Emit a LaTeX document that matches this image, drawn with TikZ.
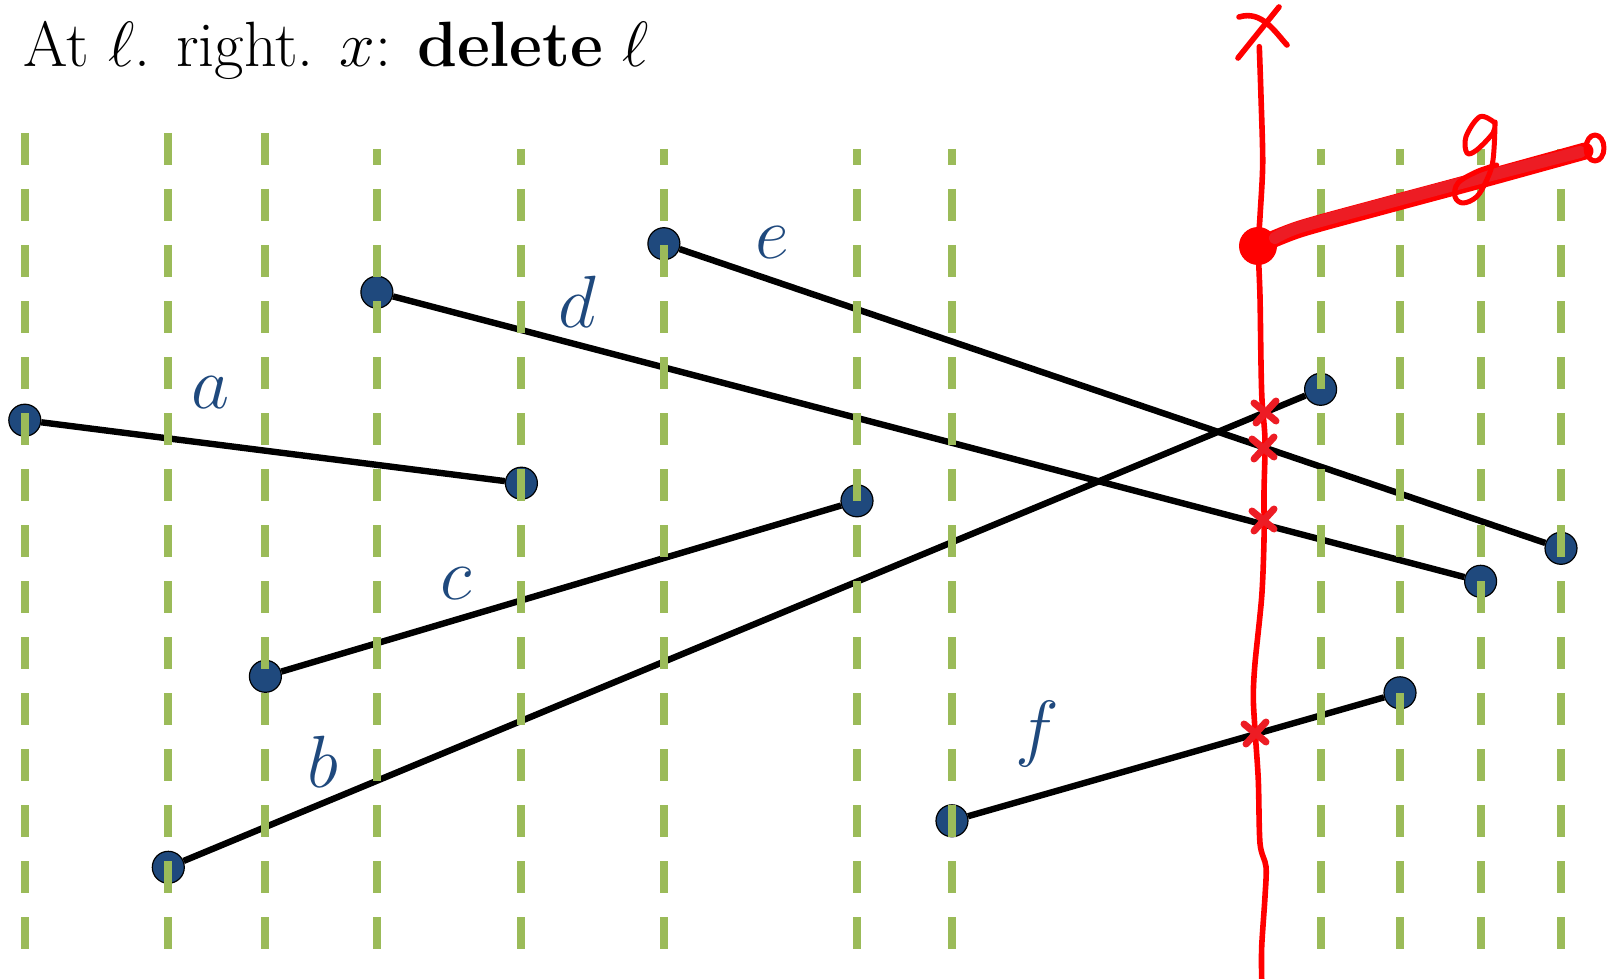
\RequirePackage{fix-cm}
\documentclass[tikz,border=0pt]{standalone}
\usepackage{amsmath,amssymb}
\usepackage{tikz}
\usetikzlibrary{calc}
\usepackage{xcolor}
\definecolor{segblue}{RGB}{31,73,125}
\definecolor{sweepgreen}{RGB}{155,187,89}
\definecolor{inkred}{RGB}{237,28,36}

\begin{document}
\begin{tikzpicture}[x=0.5pt,y=-0.5pt,
      endpt/.style={circle,draw=black,fill=segblue,line width=0.6pt,
                    minimum size=16pt,inner sep=0pt},
      seg/.style={line width=3.2pt},
      lbl/.style={text=segblue,font=\fontsize{37}{40}\selectfont,
                  anchor=base,inner sep=0pt},
      sweep/.style={sweepgreen,line width=4pt,dash pattern=on 16pt off 12pt},
      ink/.style={red,line width=2.8pt,line cap=round,line join=round},
      hit/.style={inkred,line width=3.5pt,line cap=round}]
    \useasboundingbox (0,0) rectangle (1619,979);

    \node[anchor=base east,inner sep=0pt,font=\fontsize{32}{36}\selectfont]
      (bullet) at (5.5,67) {\textbullet};
    \node[anchor=base west,inner sep=0pt,font=\fontsize{32}{36}\selectfont]
      (title) at (23,67) {At $\ell$. right. $x$: \textbf{delete} $\ell$};

    \node[endpt] (a1) at (24.8,420.2) {};
    \node[endpt] (a2) at (521.4,483.2) {};
    \node[endpt] (b1) at (168.3,867.3) {};
    \node[endpt] (b2) at (1320.6,389.3) {};
    \node[endpt] (c1) at (265.4,676.3) {};
    \node[endpt] (c2) at (857,500.8) {};
    \node[endpt] (d1) at (376.9,292.2) {};
    \node[endpt] (d2) at (1480.6,581.3) {};
    \node[endpt] (e1) at (663.9,243.7) {};
    \node[endpt] (e2) at (1561,548.3) {};
    \node[endpt] (f1) at (952,820.8) {};
    \node[endpt] (f2) at (1400,692.8) {};
    \foreach \s in {a,b,c,d,e,f}
      \draw[seg] (\s1) -- (\s2);

    \node[lbl] (la) at (211,408) {$a$};
    \node[lbl] (lb) at (323,787) {$b$};
    \node[lbl] (lc) at (456,599) {$c$};
    \node[lbl] (ld) at (577,328) {$d$};
    \node[lbl] (le) at (772,258) {$e$};
    \node[lbl] (lf) at (1037,752) {$f$};

    \coordinate (hi) at (0,133);
    \coordinate (hilow) at (0,149);
    \coordinate (lo) at (0,949);
    \foreach \p in {a1,b1,c1}
      \draw[sweep] (\p |- hi) -- (\p |- lo);
    \foreach \p in {d1,a2,e1,c2,f1,b2,f2,d2,e2}
      \draw[sweep,dash phase=8pt] (\p |- hilow) -- (\p |- lo);

    \draw[ink] plot[smooth,tension=0.5] coordinates {(1259.3,46.7) (1261,96.7)
      (1262.7,163.3) (1260,216.7) (1258.3,246.7) (1260,296.7) (1261,363.3)
      (1262,400) (1265,440) (1264,493) (1264,540) (1261.7,596.7) (1255,663.3)
      (1253.3,696.7) (1255,730) (1258.3,780) (1260,843.3) (1266,866.7)
      (1265,896.7) (1261.7,946.7) (1261.7,979)};
    \draw[ink] (1239,17) .. controls (1262,10) and (1275,32) .. (1287,45);
    \draw[ink] (1279,7) -- (1238,58);

    \coordinate (m1) at (1265,412);
    \coordinate (m2) at (1263,448);
    \coordinate (m3) at (1263,520);
    \coordinate (m4) at (1255,733);
    \foreach \m in {m1,m2,m3,m4}
      \draw[hit,shift={(\m)}] (-11,-9) -- (11,9) (11,-11) -- (-9,11);

    \node[circle,fill=red,minimum size=19pt,inner sep=0pt] (gdot) at (1258,246) {};
    \coordinate (gend) at (1595,148);
    \draw[red,line width=8.5pt,line cap=round] plot[smooth,tension=0.5]
      coordinates {(gdot) (1300,229) (1387,205) (1480,180) (1585,151)};
    \draw[inkred,line width=6pt,line cap=round] plot[smooth,tension=0.5]
      coordinates {(1275,238) (1300,227) (1387,203) (1480,178) (1580,152)};
    \draw[ink,line width=2.5pt] (gend) circle[x radius=9,y radius=13];
    \draw[ink,line width=2.5pt] plot[smooth,tension=0.6] coordinates {
      (1495,123) (1480,116.7) (1466,136.7) (1467,153) (1476.7,150) (1493,133)
      (1495,123) (1493,160) (1486.7,180) (1476.7,196.7) (1463,203) (1455,196.7)
      (1458,183) (1476.7,171.7) (1496.7,165)};
\end{tikzpicture}
\end{document}
